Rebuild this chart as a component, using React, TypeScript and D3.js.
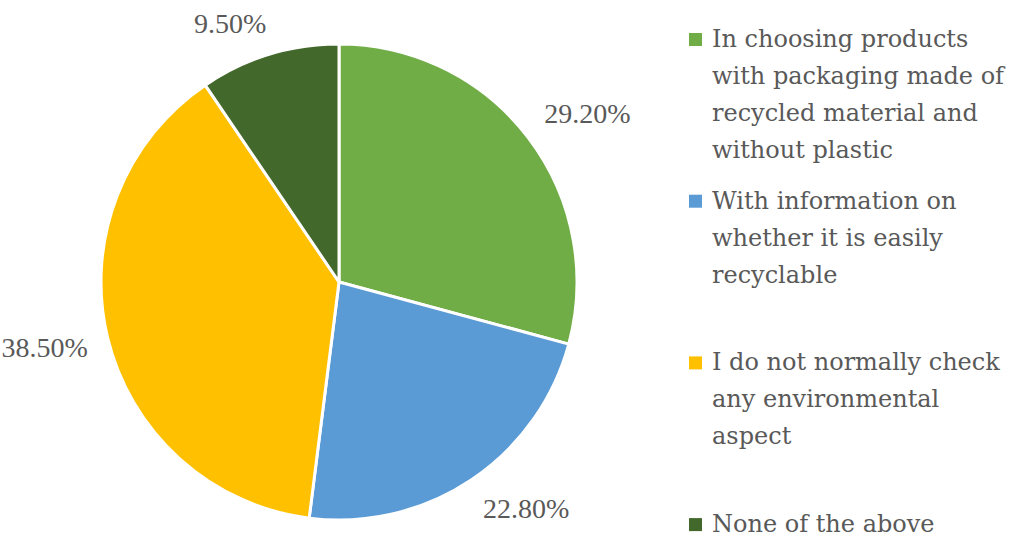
import React from "react";
import * as d3 from "d3";

const categories: string[][] = [
  ["In choosing products", "with packaging made of", "recycled material and", "without plastic"],
  ["With information on", "whether it is easily", "recyclable"],
  ["I do not normally check", "any environmental", "aspect"],
  ["None of the above"],
];
const values: number[] = [29.2, 22.8, 38.5, 9.5];
const labels: string[] = ["29.20%", "22.80%", "38.50%", "9.50%"];
const colors: string[] = ["#70AD47", "#5B9BD5", "#FFC000", "#43682B"];

const W = 1013;
const H = 540;
const cx = 339;
const cy = 282;
const R = 238;
const legendFont = "'DejaVu Serif', serif";
const labelFont = "'Liberation Serif', serif";
const textColor = "#595959";

export default function App() {
  const pie = d3.pie<number>().sort(null).value((d) => d)(values);
  const arc = d3.arc<d3.PieArcDatum<number>>().innerRadius(0).outerRadius(R);
  const labelW = [87, 87, 87, 66];
  const labelH = 24;
  const legendTop = 47;
  const legendStep = 161.7;
  const lineH = 37;
  return (
    <svg width={W} height={H} style={{ position: "absolute", left: 0, top: 0, background: "#fff" }}>
      <g transform={`translate(${cx},${cy})`}>
        {pie.map((p, i) => (
          <path key={i} d={arc(p) || ""} fill={colors[i]} stroke="#fff" strokeWidth={3} strokeLinejoin="round" />
        ))}
        {pie.map((p, i) => {
          const a = (p.startAngle + p.endAngle) / 2;
          const r = 258;
          const s = Math.sin(a);
          const c = Math.cos(a);
          const px = r * s;
          const py = -r * c;
          const kx = Math.max(-1, Math.min(1, s * 4));
          const ky = Math.max(-1, Math.min(1, c * 2));
          const x = px + (labelW[i] / 2) * kx;
          const y = py - (labelH / 2) * ky;
          return (
            <text key={i} x={x} y={y} textAnchor="middle" dominantBaseline="central"
              fontFamily={labelFont} fontSize={28} fill={textColor}>
              {labels[i]}
            </text>
          );
        })}
      </g>
      <g>
        {categories.map((lines, i) => {
          const by = legendTop + i * legendStep;
          return (
            <g key={i}>
              <rect x={689} y={by - 14} width={13} height={13} fill={colors[i]} />
              {lines.map((ln, j) => (
                <text key={j} x={712} y={by + j * lineH} fontFamily={legendFont} fontSize={24} fill={textColor}>
                  {ln}
                </text>
              ))}
            </g>
          );
        })}
      </g>
    </svg>
  );
}
